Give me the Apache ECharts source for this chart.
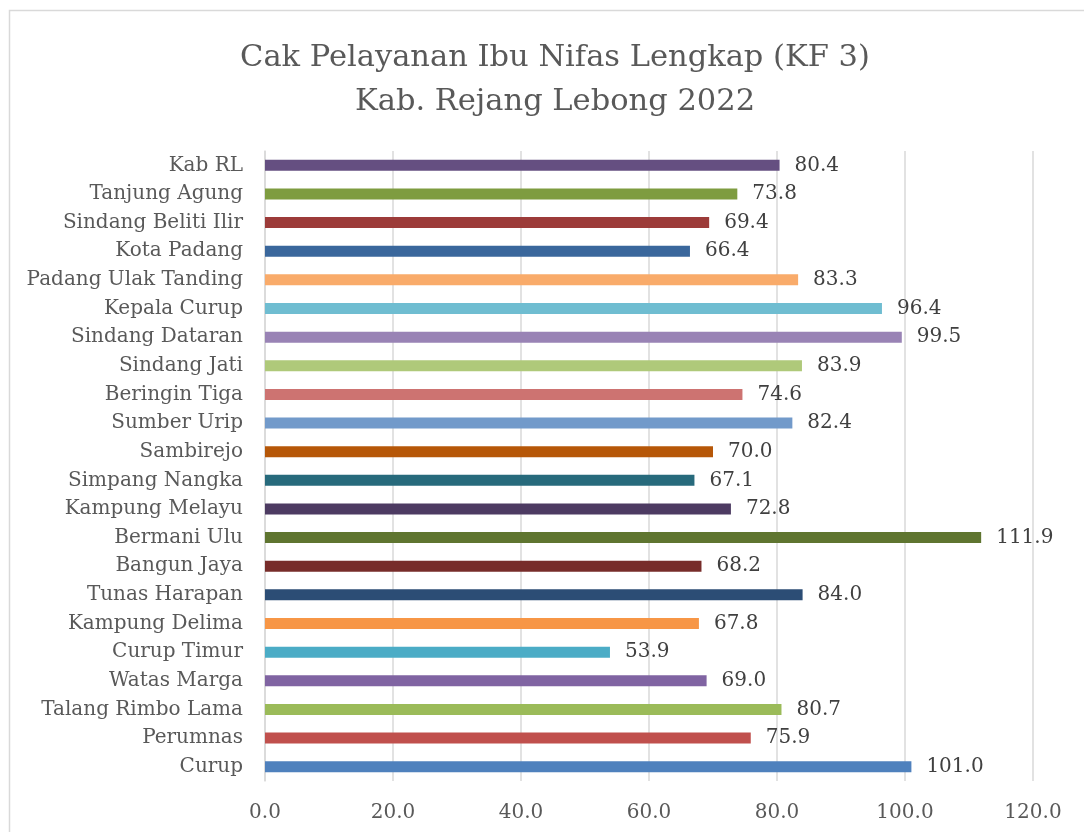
<!DOCTYPE html>
<html>
<head>
<meta charset="utf-8">
<script src="https://cdn.jsdelivr.net/npm/echarts@6/dist/echarts.min.js"></script>
<style>
html,body{margin:0;padding:0;background:#fff;}
#main{width:1084px;height:832px;}
</style>
</head>
<body>
<div id="main"></div>
<script>
const titleLines = ['Cak Pelayanan Ibu Nifas Lengkap (KF 3)', 'Kab. Rejang Lebong 2022'];
// bottom to top
const categories = ['Curup','Perumnas','Talang Rimbo Lama','Watas Marga','Curup Timur','Kampung Delima','Tunas Harapan','Bangun Jaya','Bermani Ulu','Kampung Melayu','Simpang Nangka','Sambirejo','Sumber Urip','Beringin Tiga','Sindang Jati','Sindang Dataran','Kepala Curup','Padang Ulak Tanding','Kota Padang','Sindang Beliti Ilir','Tanjung Agung','Kab RL'];
const values = [101.0,75.9,80.7,69.0,53.9,67.8,84.0,68.2,111.9,72.8,67.1,70.0,82.4,74.6,83.9,99.5,96.4,83.3,66.4,69.4,73.8,80.4];
const barColors = ['#4F81BD','#C0504D','#9BBB59','#8064A2','#4BACC6','#F79646','#2C4D75','#772C2A','#5F7530','#4D3B62','#276A7C','#B65708','#729ACA','#CD7371','#AFC97A','#9983B5','#6FBDD1','#F9AB6A','#3A679C','#9C3B39','#7E9C40','#654F81'];
const xMin = 0, xMax = 120, xInterval = 20;

const chart = echarts.init(document.getElementById('main'), null, {renderer:'canvas'});
const font = 'DejaVu Serif';
chart.setOption({
  backgroundColor:'#ffffff',
  animation:false,
  title:{
    text: titleLines.join('\n'),
    left: 550, top: 31, textAlign:'center',
    textStyle:{fontFamily:font, fontSize:30.5, fontWeight:'normal', color:'#595959', lineHeight:44}
  },
  graphic:[{type:'rect', shape:{x:9.5,y:10.5,width:1200,height:1000}, style:{fill:'none', stroke:'#d9d9d9', lineWidth:1.5}, silent:true}],
  grid:{left:265, right:51, top:151, bottom:51, containLabel:false},
  xAxis:{
    type:'value', min:xMin, max:xMax, interval:xInterval,
    axisLine:{show:false}, axisTick:{show:false},
    splitLine:{show:true, lineStyle:{color:'#d9d9d9', width:1.5}},
    axisLabel:{fontFamily:font, fontSize:20, color:'#595959', margin:22, formatter:v=>v.toFixed(1)}
  },
  yAxis:{
    type:'category', data:categories,
    axisLine:{show:true, lineStyle:{color:'#d9d9d9', width:1.5}},
    axisTick:{show:false},
    axisLabel:{fontFamily:font, fontSize:20, color:'#595959', margin:22}
  },
  series:[{
    type:'bar', barWidth:11,
    data: values.map((v,i)=>({value:v, itemStyle:{color:barColors[i]}})),
    label:{show:true, position:'right', distance:15, fontFamily:font, fontSize:20, color:'#404040', formatter:p=>p.value.toFixed(1)}
  }]
});
</script>
</body>
</html>
